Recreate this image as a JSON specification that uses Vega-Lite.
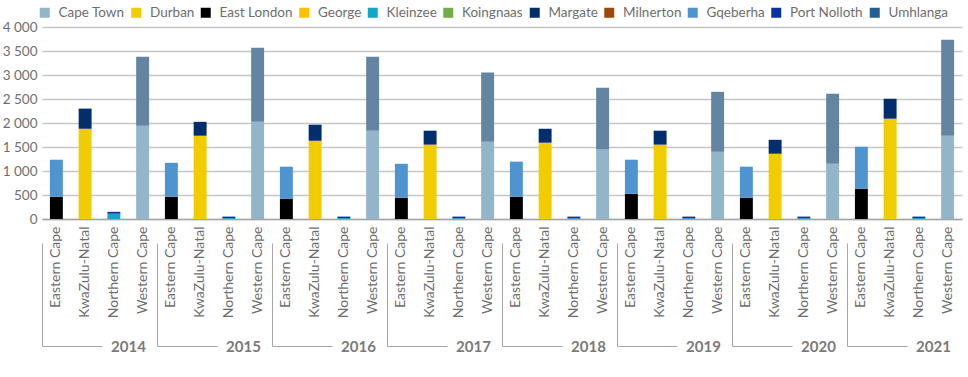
{
  "$schema": "https://vega.github.io/schema/vega-lite/v6.json",
  "autosize": {"type": "none"},
  "width": 920,
  "height": 192,
  "padding": {"left": 42, "top": 27, "right": 6, "bottom": 158},
  "background": "white",
  "config": {"font": "Lato", "view": {"stroke": null}},
  "data": {"values": [
    {"year": "2014", "province": "Eastern Cape", "city": "East London", "value": 465},
    {"year": "2014", "province": "Eastern Cape", "city": "Gqeberha", "value": 770},
    {"year": "2014", "province": "KwaZulu-Natal", "city": "Durban", "value": 1880},
    {"year": "2014", "province": "KwaZulu-Natal", "city": "Margate", "value": 420},
    {"year": "2014", "province": "Northern Cape", "city": "Kleinzee", "value": 110},
    {"year": "2014", "province": "Northern Cape", "city": "Port Nolloth", "value": 40},
    {"year": "2014", "province": "Western Cape", "city": "Cape Town", "value": 1945},
    {"year": "2014", "province": "Western Cape", "city": "Other", "value": 1435},
    {"year": "2015", "province": "Eastern Cape", "city": "East London", "value": 465},
    {"year": "2015", "province": "Eastern Cape", "city": "Gqeberha", "value": 705},
    {"year": "2015", "province": "KwaZulu-Natal", "city": "Durban", "value": 1735},
    {"year": "2015", "province": "KwaZulu-Natal", "city": "Margate", "value": 290},
    {"year": "2015", "province": "Northern Cape", "city": "Kleinzee", "value": 15},
    {"year": "2015", "province": "Northern Cape", "city": "Port Nolloth", "value": 35},
    {"year": "2015", "province": "Western Cape", "city": "Cape Town", "value": 2025},
    {"year": "2015", "province": "Western Cape", "city": "Other", "value": 1545},
    {"year": "2016", "province": "Eastern Cape", "city": "East London", "value": 425},
    {"year": "2016", "province": "Eastern Cape", "city": "Gqeberha", "value": 665},
    {"year": "2016", "province": "KwaZulu-Natal", "city": "Durban", "value": 1630},
    {"year": "2016", "province": "KwaZulu-Natal", "city": "Margate", "value": 335},
    {"year": "2016", "province": "Northern Cape", "city": "Kleinzee", "value": 15},
    {"year": "2016", "province": "Northern Cape", "city": "Port Nolloth", "value": 35},
    {"year": "2016", "province": "Western Cape", "city": "Cape Town", "value": 1840},
    {"year": "2016", "province": "Western Cape", "city": "Other", "value": 1540},
    {"year": "2017", "province": "Eastern Cape", "city": "East London", "value": 445},
    {"year": "2017", "province": "Eastern Cape", "city": "Gqeberha", "value": 705},
    {"year": "2017", "province": "KwaZulu-Natal", "city": "Durban", "value": 1550},
    {"year": "2017", "province": "KwaZulu-Natal", "city": "Margate", "value": 290},
    {"year": "2017", "province": "Northern Cape", "city": "Kleinzee", "value": 15},
    {"year": "2017", "province": "Northern Cape", "city": "Port Nolloth", "value": 35},
    {"year": "2017", "province": "Western Cape", "city": "Cape Town", "value": 1610},
    {"year": "2017", "province": "Western Cape", "city": "Other", "value": 1440},
    {"year": "2018", "province": "Eastern Cape", "city": "East London", "value": 465},
    {"year": "2018", "province": "Eastern Cape", "city": "Gqeberha", "value": 730},
    {"year": "2018", "province": "KwaZulu-Natal", "city": "Durban", "value": 1590},
    {"year": "2018", "province": "KwaZulu-Natal", "city": "Margate", "value": 290},
    {"year": "2018", "province": "Northern Cape", "city": "Kleinzee", "value": 15},
    {"year": "2018", "province": "Northern Cape", "city": "Port Nolloth", "value": 35},
    {"year": "2018", "province": "Western Cape", "city": "Cape Town", "value": 1445},
    {"year": "2018", "province": "Western Cape", "city": "Other", "value": 1290},
    {"year": "2019", "province": "Eastern Cape", "city": "East London", "value": 525},
    {"year": "2019", "province": "Eastern Cape", "city": "Gqeberha", "value": 710},
    {"year": "2019", "province": "KwaZulu-Natal", "city": "Durban", "value": 1550},
    {"year": "2019", "province": "KwaZulu-Natal", "city": "Margate", "value": 290},
    {"year": "2019", "province": "Northern Cape", "city": "Kleinzee", "value": 15},
    {"year": "2019", "province": "Northern Cape", "city": "Port Nolloth", "value": 35},
    {"year": "2019", "province": "Western Cape", "city": "Cape Town", "value": 1400},
    {"year": "2019", "province": "Western Cape", "city": "Other", "value": 1250},
    {"year": "2020", "province": "Eastern Cape", "city": "East London", "value": 445},
    {"year": "2020", "province": "Eastern Cape", "city": "Gqeberha", "value": 645},
    {"year": "2020", "province": "KwaZulu-Natal", "city": "Durban", "value": 1360},
    {"year": "2020", "province": "KwaZulu-Natal", "city": "Margate", "value": 290},
    {"year": "2020", "province": "Northern Cape", "city": "Kleinzee", "value": 15},
    {"year": "2020", "province": "Northern Cape", "city": "Port Nolloth", "value": 35},
    {"year": "2020", "province": "Western Cape", "city": "Cape Town", "value": 1150},
    {"year": "2020", "province": "Western Cape", "city": "Other", "value": 1460},
    {"year": "2021", "province": "Eastern Cape", "city": "East London", "value": 630},
    {"year": "2021", "province": "Eastern Cape", "city": "Gqeberha", "value": 875},
    {"year": "2021", "province": "KwaZulu-Natal", "city": "Durban", "value": 2090},
    {"year": "2021", "province": "KwaZulu-Natal", "city": "Margate", "value": 415},
    {"year": "2021", "province": "Northern Cape", "city": "Kleinzee", "value": 15},
    {"year": "2021", "province": "Northern Cape", "city": "Port Nolloth", "value": 35},
    {"year": "2021", "province": "Western Cape", "city": "Cape Town", "value": 1735},
    {"year": "2021", "province": "Western Cape", "city": "Other", "value": 2000}
  ]},
  "transform": [{"calculate": "datum.year + '|' + datum.province", "as": "key"}],
  "layer": [
    {
      "mark": {"type": "bar"},
      "encoding": {
        "x": {
          "field": "key", "type": "nominal", "sort": null,
          "scale": {"paddingInner": 0.55, "paddingOuter": 0.275},
          "axis": {
            "title": null, "labelAngle": -90, "labelAlign": "right", "labelBaseline": "middle",
            "labelExpr": "split(datum.label, '|')[1]",
            "labelFontSize": 14, "labelColor": "#6e6e6e", "labelPadding": 7,
            "ticks": false, "domain": true, "domainColor": "#a6a6a6", "domainWidth": 1.5
          }
        },
        "y": {
          "field": "value", "type": "quantitative", "aggregate": "sum",
          "scale": {"domain": [0, 4000], "nice": false},
          "axis": {
            "title": null, "values": [0, 500, 1000, 1500, 2000, 2500, 3000, 3500, 4000],
            "labelExpr": "replace(format(datum.value, ','), ',', ' ')",
            "labelFontSize": 13.5, "labelColor": "#6e6e6e", "labelPadding": 5,
            "ticks": false, "domain": false,
            "grid": true, "gridColor": "#c6c6c6", "gridWidth": 1.5
          }
        },
        "order": {"field": "city", "sort": "ascending"},
        "color": {
          "field": "city", "type": "nominal",
          "scale": {
            "domain": ["Cape Town", "Durban", "East London", "George", "Kleinzee", "Koingnaas", "Margate", "Milnerton", "Gqeberha", "Port Nolloth", "Umhlanga", "Other"],
            "range": ["#93b5ca", "#f0cc00", "#000000", "#ffc000", "#12a7c9", "#70ad47", "#022e6e", "#9e480e", "#4e95d0", "#0a33a0", "#255e91", "#6385a1"]
          },
          "legend": {
            "title": null, "orient": "none", "legendX": -4, "legendY": -21,
            "direction": "horizontal", "columns": 11, "gridAlign": "none",
            "values": ["Cape Town", "Durban", "East London", "George", "Kleinzee", "Koingnaas", "Margate", "Milnerton", "Gqeberha", "Port Nolloth", "Umhlanga"],
            "symbolType": "square", "symbolSize": 100, "symbolStrokeWidth": 0,
            "labelFontSize": 13.5, "labelColor": "#6e6e6e", "labelOffset": 7,
            "columnPadding": 4.5, "labelLimit": 200
          }
        }
      }
    },
    {
      "mark": {"type": "rule", "opacity": 0},
      "encoding": {
        "x": {
          "field": "year", "type": "nominal",
          "scale": {"paddingInner": 0, "paddingOuter": 0},
          "axis": {
            "title": null, "orient": "bottom", "offset": 127,
            "bandPosition": 0,
            "ticks": true, "tickSize": -103, "tickColor": "#a6a6a6", "tickWidth": 1,
            "domain": true, "domainColor": "#a6a6a6", "domainWidth": 1, "domainDash": [60, 55],
            "labelAngle": 0, "labelAlign": "center", "labelBaseline": "middle",
            "labelPadding": 103, "labelOffset": 29,
            "labelFontSize": 15, "labelFontWeight": "bold", "labelColor": "#7a7a7a"
          }
        }
      }
    }
  ],
  "resolve": {"scale": {"x": "independent"}, "axis": {"x": "independent"}}
}
